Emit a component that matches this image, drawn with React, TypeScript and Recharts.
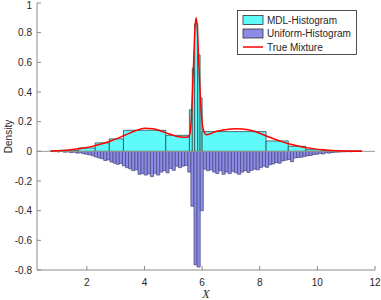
import React from 'react';
import {
  ComposedChart,
  Line,
  XAxis,
  YAxis,
  Label,
  Legend,
  ReferenceArea,
  ReferenceLine
} from 'recharts';

const xTicks = [2, 4, 6, 8, 10, 12];
const yTicks = [-0.8, -0.6, -0.4, -0.2, 0, 0.2, 0.4, 0.6, 0.8, 1];

// MDL histogram, variable width bins (edges + heights)
const mdlEdges = [0.73, 1.13, 1.71, 2.29, 2.78, 3.27, 4.74, 5.56, 5.66, 5.74, 5.85, 5.93, 6.0, 8.22, 8.99, 9.6, 10.2, 11.55];
const mdlDensity = [0.003, 0.007, 0.023, 0.057, 0.084, 0.142, 0.108, 0.28, 0.56, 0.86, 0.65, 0.36, 0.133, 0.07, 0.034, 0.011, 0.003];

// uniform histogram (drawn downwards)
const uniformStart = 0.75;
const uniformBinWidth = 0.108;
const uniformDensity = [
  0, 0.002, 0.004, 0, 0.006,
  0.004, 0.008, 0.006, 0.012, 0.01,
  0.016, 0.02, 0.024, 0.03, 0.038,
  0.045, 0.05, 0.062, 0.058, 0.072,
  0.08, 0.088, 0.082, 0.098, 0.11,
  0.118, 0.13, 0.125, 0.155, 0.15,
  0.16, 0.152, 0.17, 0.148, 0.16,
  0.14, 0.13, 0.145, 0.115, 0.128,
  0.1, 0.11, 0.1, 0.095, 0.14,
  0.37, 0.765, 0.78, 0.4, 0.12,
  0.13, 0.125, 0.14, 0.15, 0.13,
  0.155, 0.14, 0.15, 0.135, 0.145,
  0.155, 0.14, 0.13, 0.142, 0.128,
  0.12, 0.125, 0.11, 0.1, 0.108,
  0.09, 0.085, 0.075, 0.08, 0.065,
  0.06, 0.055, 0.07, 0.045, 0.042,
  0.04, 0.035, 0.03, 0.028, 0.022,
  0.02, 0.015, 0.018, 0.01, 0.012,
  0.008, 0.006, 0.005, 0.004, 0.003,
  0.002, 0.003, 0.001, 0, 0.001
];

// true mixture density
const mixX = [0.75, 1.0, 1.3, 1.7, 2.0, 2.3, 2.8, 3.3, 3.7, 4.0, 4.3, 4.7, 5.1, 5.4, 5.5, 5.55, 5.6, 5.65, 5.7, 5.75, 5.79, 5.83, 5.88, 5.93, 5.98, 6.05, 6.15, 6.5, 7.0, 7.2, 7.6, 8.0, 8.3, 8.7, 9.0, 9.4, 9.8, 10.2, 10.7, 11.2, 11.55];
const mixY = [0.001, 0.004, 0.008, 0.017, 0.026, 0.04, 0.068, 0.107, 0.14, 0.156, 0.153, 0.128, 0.102, 0.095, 0.097, 0.105, 0.15, 0.33, 0.57, 0.82, 0.9, 0.84, 0.62, 0.4, 0.24, 0.14, 0.112, 0.135, 0.151, 0.153, 0.145, 0.122, 0.098, 0.07, 0.051, 0.033, 0.02, 0.01, 0.004, 0.001, 0];

const mixData = mixX.map((x, i) => ({ x, y: mixY[i] }));

const axisColor = '#8a8a8a';
const tickStyle = { fill: '#262626', fontSize: 10, fontFamily: '"Liberation Sans", Arial, sans-serif' };

const renderYLabel = (props: any) => {
  const { x, y, height } = props.viewBox;
  return (
    <text
      transform={`translate(${x + 8}, ${y + height / 2}) rotate(-90)`}
      textAnchor="middle"
      dominantBaseline="central"
      fill="#262626"
      fontSize={10}
      fontFamily='"Liberation Sans", Arial, sans-serif'
    >
      Density
    </text>
  );
};

const renderXLabel = (props: any) => {
  const { x, y, width } = props.viewBox;
  return (
    <text
      x={x + width / 2}
      y={y + 28}
      textAnchor="middle"
      fill="#262626"
      fontSize={12}
      fontStyle="italic"
      fontFamily='"Liberation Serif", serif'
    >
      X
    </text>
  );
};

const renderLegend = () => (
  <svg width={121} height={46} style={{ display: 'block' }}>
    <rect x={0.5} y={0.5} width={119} height={44} fill="#fff" stroke="#262626" strokeWidth={0.8} />
    <rect x={6} y={5.5} width={20} height={9} fill="#5ffafa" stroke="#333" strokeWidth={0.8} />
    <rect x={6} y={19} width={20} height={9} fill="#8c8ce8" stroke="#333" strokeWidth={0.8} />
    <line x1={6} x2={26} y1={37} y2={37} stroke="#ff0000" strokeWidth={1.5} />
    <g fill="#262626" fontSize={10} fontFamily='"Liberation Sans", Arial, sans-serif'>
      <text x={30} y={13.5}>MDL-Histogram</text>
      <text x={30} y={27}>Uniform-Histogram</text>
      <text x={30} y={40.5}>True Mixture</text>
    </g>
  </svg>
);

export default function App() {
  return (
    <div style={{ position: 'absolute', left: 0, top: 0, background: '#fff' }}>
      <ComposedChart
        width={381}
        height={300}
        data={mixData}
        margin={{ top: 3, right: 6, bottom: 0, left: 0 }}
      >
        <XAxis
          xAxisId="b"
          dataKey="x"
          type="number"
          domain={[0.27, 12]}
          ticks={xTicks}
          allowDataOverflow
          height={30}
          tickSize={-4}
          tickMargin={13}
          tick={tickStyle}
          stroke={axisColor}
        >
          <Label content={renderXLabel} />
        </XAxis>
        <XAxis
          xAxisId="t"
          orientation="top"
          dataKey="x"
          type="number"
          domain={[0.27, 12]}
          ticks={xTicks}
          allowDataOverflow
          height={0}
          tickSize={-4}
          tick={false}
          stroke={axisColor}
        />
        <YAxis
          yAxisId="l"
          type="number"
          domain={[-0.8, 1]}
          ticks={yTicks}
          allowDataOverflow
          width={37}
          tickSize={-4}
          tickMargin={9}
          tick={tickStyle}
          stroke={axisColor}
        >
          <Label content={renderYLabel} />
        </YAxis>
        <YAxis
          yAxisId="r"
          orientation="right"
          type="number"
          domain={[-0.8, 1]}
          ticks={yTicks}
          allowDataOverflow
          width={0}
          tickSize={-4}
          tick={false}
          stroke={axisColor}
        />
        {uniformDensity.map((v, i) =>
          v > 0 ? (
            <ReferenceArea
              key={`u${i}`}
              xAxisId="b"
              yAxisId="l"
              x1={uniformStart + i * uniformBinWidth}
              x2={uniformStart + (i + 1) * uniformBinWidth}
              y1={-v}
              y2={0}
              fill="#8c8ce8"
              fillOpacity={1}
              stroke="#45457a"
              strokeWidth={0.7}
            />
          ) : null
        )}
        {mdlDensity.map((v, i) => (
          <ReferenceArea
            key={`m${i}`}
            xAxisId="b"
            yAxisId="l"
            x1={mdlEdges[i]}
            x2={mdlEdges[i + 1]}
            y1={0}
            y2={v}
            fill="#5ffafa"
            fillOpacity={1}
            stroke="#2e4d4d"
            strokeWidth={0.8}
          />
        ))}
        <ReferenceLine xAxisId="b" yAxisId="l" y={0} stroke="#9a9a9a" strokeWidth={1} />
        <Line
          xAxisId="b"
          yAxisId="l"
          dataKey="y"
          type="monotone"
          stroke="#ff0000"
          strokeWidth={1.5}
          dot={false}
          isAnimationActive={false}
        />
        <Legend
          content={renderLegend}
          layout="horizontal"
          verticalAlign="middle"
          align="center"
          wrapperStyle={{ left: 237, top: 10, width: 121, height: 46 }}
        />
      </ComposedChart>
    </div>
  );
}
